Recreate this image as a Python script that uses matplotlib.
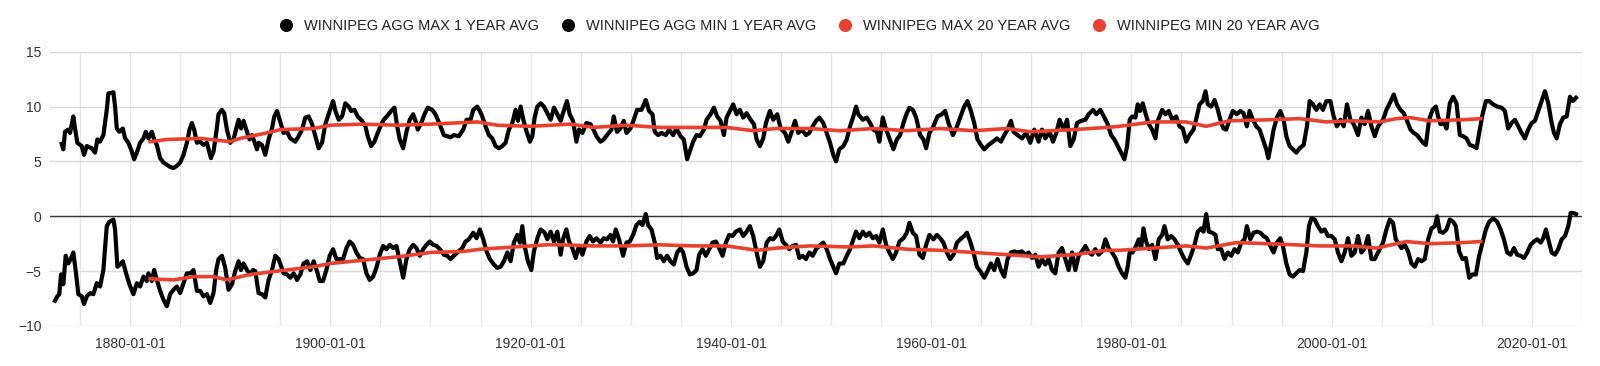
import matplotlib.pyplot as plt
from matplotlib.lines import Line2D
from matplotlib.ticker import MultipleLocator, FuncFormatter

plt.rcParams['font.family'] = ['Liberation Sans', 'DejaVu Sans']

# 1 year rolling average of daily max temperature (decimal year, deg C)
max_years = [
    1873.17, 1873.33, 1873.5, 1873.83, 1874.0, 1874.33, 1874.5, 1874.73, 1875.17, 1875.4,
    1875.67, 1876.17, 1876.5, 1876.73, 1877.0, 1877.33, 1877.67, 1877.83, 1878.33, 1878.5,
    1878.67, 1878.93, 1879.27, 1879.5, 1879.83, 1880.17, 1880.4, 1880.67, 1881.0, 1881.33,
    1881.57, 1881.83, 1882.17, 1882.4, 1882.67, 1883.0, 1883.33, 1883.67, 1884.0, 1884.33,
    1884.67, 1885.0, 1885.33, 1885.67, 1885.93, 1886.17, 1886.4, 1886.67, 1887.0, 1887.33,
    1887.67, 1888.07, 1888.33, 1888.6, 1888.83, 1889.17, 1889.4, 1889.67, 1890.0, 1890.33,
    1890.6, 1890.83, 1891.07, 1891.33, 1891.67, 1891.93, 1892.17, 1892.33, 1892.67, 1892.83,
    1893.17, 1893.5, 1893.83, 1894.17, 1894.4, 1894.67, 1894.93,
    1895.33, 1895.67, 1896.0, 1896.5, 1896.83, 1897.17, 1897.5, 1897.83, 1898.17, 1898.5,
    1898.83, 1899.17, 1899.5, 1899.93, 1900.27, 1900.5, 1900.83, 1901.17, 1901.5, 1901.83,
    1902.07, 1902.4, 1902.73, 1903.17, 1903.5, 1903.73, 1904.07, 1904.4, 1904.73, 1905.0,
    1905.33, 1905.73, 1906.07, 1906.4, 1906.67, 1906.93, 1907.27, 1907.6, 1907.93, 1908.27,
    1908.5, 1908.73, 1909.07, 1909.4, 1909.73, 1910.17, 1910.5, 1911.0, 1911.33, 1911.67,
    1912.0, 1912.33, 1912.83, 1913.27, 1913.6, 1914.0, 1914.27, 1914.67, 1914.93, 1915.17,
    1915.5, 1915.83, 1916.17, 1916.5, 1916.83, 1917.17, 1917.5, 1917.83, 1918.17, 1918.5,
    1918.73, 1919.0, 1919.27, 1919.6, 1919.93, 1920.17, 1920.4, 1920.67, 1921.0, 1921.33,
    1921.67, 1922.0, 1922.33, 1922.67, 1923.0,
    1923.23, 1923.63, 1923.9, 1924.23, 1924.57, 1924.83, 1925.17, 1925.57, 1925.97, 1926.23,
    1926.57, 1926.97, 1927.3, 1927.63, 1928.07, 1928.3, 1928.63, 1928.97, 1929.3, 1929.57,
    1929.97, 1930.3, 1930.63, 1931.07, 1931.5, 1931.83, 1932.17, 1932.4, 1932.73, 1933.07,
    1933.5, 1933.83, 1934.23, 1934.57, 1934.97, 1935.3, 1935.63, 1935.97, 1936.23, 1936.57,
    1936.9, 1937.3, 1937.57, 1937.97, 1938.3, 1938.63, 1938.97, 1939.3, 1939.57, 1939.9,
    1940.23, 1940.57, 1940.9, 1941.23, 1941.57, 1941.97, 1942.3, 1942.57, 1942.9, 1943.23,
    1943.5, 1943.9, 1944.23, 1944.63, 1944.97, 1945.4, 1945.73, 1946.07, 1946.4, 1946.73,
    1947.07, 1947.5, 1947.83, 1948.17, 1948.5, 1948.83, 1949.23, 1949.57, 1949.9, 1950.23,
    1950.5, 1950.83,
    1951.23, 1951.57, 1951.9, 1952.23, 1952.5, 1952.73, 1953.17, 1953.57, 1953.9, 1954.23,
    1954.57, 1954.83, 1955.17, 1955.5, 1955.83, 1956.23, 1956.57, 1956.9, 1957.23, 1957.57,
    1957.83, 1958.17, 1958.5, 1958.9, 1959.23, 1959.5, 1959.83, 1960.23, 1960.63, 1961.07,
    1961.4, 1961.73, 1962.17, 1962.5, 1962.9, 1963.3, 1963.63, 1963.97, 1964.3, 1964.63,
    1964.97, 1965.3, 1965.73, 1966.17, 1966.57, 1966.97, 1967.3, 1967.63, 1967.97, 1968.23,
    1968.63, 1969.07, 1969.5, 1969.9, 1970.3, 1970.73, 1971.07, 1971.4, 1971.83, 1972.17,
    1972.5, 1972.83, 1973.23, 1973.57, 1973.9, 1974.23, 1974.57, 1974.97, 1975.4, 1975.73,
    1976.17, 1976.5, 1976.9, 1977.3, 1977.63, 1977.97, 1978.3, 1978.63, 1978.97, 1979.3,
    1979.57, 1979.83,
    1980.07, 1980.4, 1980.63, 1980.87, 1981.13, 1981.4, 1981.73, 1982.07, 1982.4, 1982.63,
    1983.07, 1983.4, 1983.73, 1984.07, 1984.47, 1984.8, 1985.13, 1985.47, 1985.8, 1986.2,
    1986.53, 1986.8, 1987.13, 1987.4, 1987.63, 1987.97, 1988.3, 1988.63, 1988.97, 1989.2,
    1989.47, 1989.8, 1990.13, 1990.53, 1990.87, 1991.2, 1991.53, 1991.8, 1992.13, 1992.47,
    1992.8, 1993.13, 1993.47, 1993.67, 1993.97, 1994.2, 1994.53, 1994.87, 1995.2, 1995.47,
    1995.8, 1996.13, 1996.47, 1996.8, 1997.2, 1997.53, 1997.8, 1998.13, 1998.47, 1998.8,
    1999.13, 1999.47, 1999.87, 2000.2, 2000.53, 2000.87, 2001.2, 2001.53, 2001.87, 2002.2,
    2002.63, 2002.97, 2003.3, 2003.63, 2003.97, 2004.3, 2004.63,
    2005.13, 2005.47, 2005.8, 2006.2, 2006.53, 2006.87, 2007.2, 2007.53, 2007.87, 2008.2,
    2008.53, 2008.87, 2009.13, 2009.4, 2009.73, 2010.07, 2010.4, 2010.63, 2010.87, 2011.2,
    2011.47, 2011.8, 2012.13, 2012.47, 2012.8, 2013.13, 2013.47, 2013.8, 2014.13, 2014.47,
    2014.73, 2015.07, 2015.4, 2015.73, 2016.13, 2016.53, 2016.97, 2017.3, 2017.63, 2017.97,
    2018.3, 2018.63, 2018.97, 2019.3, 2019.63, 2019.97, 2020.3, 2020.63, 2020.97, 2021.3,
    2021.63, 2021.97, 2022.2, 2022.47, 2022.8, 2023.13, 2023.47, 2023.8, 2024.07, 2024.4,
]
max_values = [
    6.6, 6.1, 7.7, 7.9, 7.6, 9.1, 8.0, 6.7, 6.4, 5.6,
    6.4, 6.2, 5.8, 7.0, 6.8, 7.4, 9.7, 11.2, 11.3, 10.0,
    8.0, 7.7, 8.0, 7.1, 6.7, 5.9, 5.2, 5.8, 6.7, 7.1,
    7.7, 7.1, 7.7, 7.0, 6.5, 5.3, 4.9, 4.7, 4.5, 4.4,
    4.6, 4.9, 5.6, 6.7, 7.9, 8.5, 7.9, 6.7, 6.8, 6.5,
    6.7, 5.3, 5.9, 7.6, 9.3, 9.7, 9.4, 7.9, 6.7, 7.0,
    8.0, 8.8, 8.0, 8.7, 7.7, 7.0, 7.4, 7.0, 6.1, 6.7,
    6.5, 5.6, 7.0, 8.0, 9.1, 9.6, 8.8,
    7.6, 7.7, 7.1, 6.8, 7.3, 7.9, 9.0, 9.1, 8.4, 7.3,
    6.2, 6.7, 8.4, 9.6, 10.5, 9.6, 8.8, 9.1, 10.3, 10.0,
    9.6, 9.7, 9.1, 8.7, 8.2, 7.3, 6.4, 6.8, 7.6, 8.2,
    8.8, 9.2, 9.6, 9.9, 8.2, 7.0, 6.2, 7.7, 8.8, 9.3,
    8.7, 7.9, 8.5, 9.3, 9.9, 9.7, 9.3, 8.2, 7.4, 7.3,
    7.2, 7.4, 7.3, 7.9, 8.8, 8.8, 9.7, 10.0, 9.6, 9.1,
    8.2, 7.4, 7.1, 6.4, 6.2, 6.4, 6.7, 7.9, 8.5, 9.7,
    8.7, 10.0, 8.8, 7.7, 6.8, 7.3, 9.0, 10.0, 10.3, 10.0,
    9.4, 8.8, 9.9, 9.3, 8.7,
    9.4, 10.5, 9.3, 8.7, 6.8, 7.9, 7.6, 8.5, 8.4, 8.0,
    7.3, 6.8, 7.0, 7.4, 7.9, 9.1, 7.7, 8.0, 8.7, 7.6,
    8.0, 8.8, 9.7, 9.7, 10.6, 9.6, 9.3, 7.7, 7.4, 7.6,
    7.4, 7.9, 7.4, 8.0, 7.3, 7.0, 5.2, 6.1, 6.8, 7.4,
    7.3, 7.9, 8.8, 9.3, 9.9, 9.1, 8.7, 7.4, 9.0, 9.6,
    10.2, 9.3, 9.7, 9.0, 9.4, 8.8, 8.4, 7.0, 6.4, 7.1,
    8.5, 9.6, 8.8, 9.3, 8.0, 7.6, 6.8, 7.7, 8.7, 7.6,
    7.9, 7.4, 7.6, 8.2, 8.7, 9.0, 8.5, 7.6, 6.7, 5.6,
    5.0, 6.1,
    6.4, 7.0, 8.2, 9.1, 10.0, 9.3, 8.8, 9.0, 8.5, 7.9,
    7.7, 6.8, 9.0, 7.9, 7.1, 6.1, 7.0, 7.4, 8.5, 9.4,
    9.9, 9.7, 9.0, 7.4, 7.0, 6.2, 7.6, 8.2, 9.1, 9.3,
    9.6, 8.5, 7.4, 8.0, 9.0, 10.0, 10.5, 9.6, 8.5, 7.0,
    6.5, 6.1, 6.5, 6.8, 7.1, 6.8, 7.4, 7.9, 8.7, 7.7,
    7.4, 7.1, 7.6, 6.7, 7.9, 6.8, 7.9, 7.1, 7.7, 6.8,
    7.6, 8.8, 7.9, 8.8, 6.4, 7.0, 8.5, 8.7, 8.8, 9.3,
    9.7, 9.3, 9.7, 9.0, 8.4, 7.4, 7.0, 6.4, 5.8, 5.2,
    6.4, 8.8,
    9.1, 9.0, 10.2, 9.6, 10.3, 9.4, 8.4, 7.9, 7.1, 8.7,
    9.7, 9.3, 9.6, 8.8, 9.1, 8.2, 8.0, 6.8, 7.4, 7.9,
    9.1, 10.2, 10.5, 11.4, 10.2, 10.0, 10.6, 9.7, 8.5, 8.0,
    7.9, 8.8, 9.6, 9.3, 9.6, 9.4, 8.2, 9.6, 8.8, 8.2,
    7.9, 7.0, 6.1, 5.3, 6.7, 7.9, 9.0, 9.6, 8.8, 7.3,
    6.4, 6.1, 5.8, 6.2, 6.5, 8.2, 10.5, 10.2, 9.7, 10.2,
    9.7, 10.5, 10.5, 9.1, 8.2, 8.8, 8.2, 10.2, 8.8, 8.4,
    7.4, 9.0, 8.4, 9.6, 8.2, 7.3, 8.2,
    8.8, 9.7, 10.3, 11.1, 10.2, 9.7, 9.4, 8.7, 7.9, 7.6,
    7.4, 7.0, 6.7, 6.5, 8.8, 9.7, 10.0, 9.1, 8.4, 8.5,
    8.0, 10.3, 10.9, 10.3, 7.4, 7.3, 7.1, 6.5, 6.4, 6.2,
    7.6, 9.3, 10.5, 10.5, 10.2, 10.0, 9.9, 9.6, 8.0, 8.5,
    8.8, 8.2, 7.6, 7.1, 7.9, 8.5, 8.7, 9.6, 10.5, 11.4,
    10.3, 8.5, 7.6, 7.1, 8.4, 9.0, 9.1, 10.9, 10.5, 10.8,
]

# 1 year rolling average of daily min temperature
min_years = [
    1872.5, 1872.73, 1872.93, 1873.1, 1873.33, 1873.57, 1873.83, 1874.07, 1874.33, 1874.6,
    1874.83, 1875.17, 1875.4, 1875.67, 1876.0, 1876.33, 1876.67, 1877.0, 1877.33, 1877.67,
    1877.93, 1878.33, 1878.5, 1878.73, 1879.0, 1879.27, 1879.6, 1879.93, 1880.33, 1880.67,
    1881.0, 1881.33, 1881.67, 1881.83, 1882.17, 1882.4, 1882.67, 1883.0, 1883.33, 1883.67,
    1884.0, 1884.33, 1884.67, 1885.0, 1885.33, 1885.67, 1886.0, 1886.33, 1886.67, 1887.0,
    1887.33, 1887.67, 1888.0, 1888.33, 1888.6, 1888.83, 1889.17, 1889.5, 1889.83, 1890.17,
    1890.5, 1890.83, 1891.07, 1891.33, 1891.67, 1892.0, 1892.27, 1892.5, 1892.83, 1893.17,
    1893.5, 1893.83, 1894.17, 1894.5, 1894.83,
    1895.33, 1895.67, 1896.0, 1896.33, 1896.67, 1897.0, 1897.33, 1897.67, 1898.0, 1898.33,
    1898.67, 1898.93, 1899.27, 1899.6, 1899.93, 1900.27, 1900.6, 1900.93, 1901.27, 1901.6,
    1901.93, 1902.27, 1902.6, 1902.93, 1903.27, 1903.6, 1903.93, 1904.27, 1904.6, 1904.93,
    1905.27, 1905.6, 1905.93, 1906.27, 1906.6, 1906.93, 1907.27, 1907.6, 1907.93, 1908.27,
    1908.6, 1908.93, 1909.27, 1909.6, 1909.93, 1910.27, 1910.6, 1910.93, 1911.33, 1911.67,
    1912.0, 1912.33, 1912.67, 1913.17, 1913.5, 1913.83, 1914.27, 1914.6, 1914.93, 1915.27,
    1915.6, 1915.93, 1916.33, 1916.67, 1917.0, 1917.33, 1917.67, 1918.0, 1918.33, 1918.67,
    1918.93, 1919.17, 1919.4, 1919.73, 1920.07, 1920.33, 1920.67, 1921.0, 1921.4, 1921.67,
    1922.0, 1922.33, 1922.67, 1923.0,
    1923.23, 1923.57, 1923.83, 1924.17, 1924.5, 1924.83, 1925.17, 1925.57, 1925.9, 1926.23,
    1926.57, 1926.97, 1927.3, 1927.63, 1927.97, 1928.23, 1928.5, 1928.83, 1929.23, 1929.57,
    1929.9, 1930.23, 1930.57, 1930.9, 1931.17, 1931.5, 1931.73, 1932.07, 1932.4, 1932.63,
    1932.97, 1933.3, 1933.63, 1933.97, 1934.3, 1934.63, 1934.97, 1935.23, 1935.57, 1935.9,
    1936.23, 1936.57, 1936.83, 1937.17, 1937.5, 1937.83, 1938.17, 1938.5, 1938.83, 1939.17,
    1939.5, 1939.83, 1940.17, 1940.5, 1940.9, 1941.23, 1941.57, 1941.9, 1942.23, 1942.57,
    1942.9, 1943.23, 1943.57, 1943.9, 1944.23, 1944.57, 1944.83, 1945.17, 1945.5, 1945.83,
    1946.17, 1946.5, 1946.83, 1947.17, 1947.5, 1947.83, 1948.17, 1948.5, 1948.83, 1949.23,
    1949.57, 1949.9, 1950.23, 1950.5, 1950.83,
    1951.23, 1951.57, 1951.9, 1952.23, 1952.5, 1952.83, 1953.17, 1953.5, 1953.83, 1954.17,
    1954.5, 1954.83, 1955.17, 1955.5, 1955.83, 1956.17, 1956.5, 1956.83, 1957.23, 1957.57,
    1957.83, 1958.17, 1958.5, 1958.83, 1959.17, 1959.5, 1959.83, 1960.23, 1960.57, 1960.9,
    1961.23, 1961.57, 1961.9, 1962.23, 1962.57, 1962.9, 1963.3, 1963.57, 1963.9, 1964.23,
    1964.57, 1964.9, 1965.3, 1965.63, 1965.97, 1966.3, 1966.63, 1966.97, 1967.3, 1967.63,
    1967.97, 1968.3, 1968.63, 1969.07, 1969.4, 1969.73, 1970.07, 1970.4, 1970.73, 1971.07,
    1971.4, 1971.73, 1972.07, 1972.4, 1972.73, 1973.07, 1973.4, 1973.73, 1974.07, 1974.4,
    1974.73, 1975.07, 1975.4, 1975.73, 1976.07, 1976.4, 1976.73, 1977.07, 1977.4, 1977.73,
    1978.07, 1978.4, 1978.73, 1979.07, 1979.4, 1979.63, 1979.83,
    1980.13, 1980.47, 1980.73, 1980.97, 1981.2, 1981.47, 1981.73, 1982.07, 1982.4, 1982.73,
    1983.07, 1983.3, 1983.63, 1983.97, 1984.3, 1984.63, 1984.97, 1985.3, 1985.63, 1985.97,
    1986.3, 1986.63, 1986.97, 1987.2, 1987.47, 1987.73, 1988.07, 1988.4, 1988.63, 1988.97,
    1989.3, 1989.63, 1989.97, 1990.3, 1990.63, 1990.97, 1991.3, 1991.53, 1991.87, 1992.2,
    1992.53, 1992.87, 1993.2, 1993.53, 1993.87, 1994.2, 1994.53, 1994.87, 1995.13, 1995.47,
    1995.8, 1996.13, 1996.47, 1996.8, 1997.13, 1997.47, 1997.73, 1997.97, 1998.3, 1998.63,
    1998.97, 1999.3, 1999.63, 1999.97, 2000.3, 2000.63, 2000.97, 2001.3, 2001.63, 2001.97,
    2002.3, 2002.63, 2002.97, 2003.3, 2003.63, 2003.97, 2004.3, 2004.63,
    2005.13, 2005.47, 2005.8, 2006.13, 2006.4, 2006.63, 2006.97, 2007.3, 2007.63, 2007.97,
    2008.3, 2008.63, 2008.97, 2009.3, 2009.63, 2009.97, 2010.3, 2010.53, 2010.8, 2011.13,
    2011.47, 2011.8, 2012.13, 2012.4, 2012.73, 2013.07, 2013.4, 2013.73, 2014.07, 2014.4,
    2014.73, 2015.07, 2015.4, 2015.73, 2016.13, 2016.53, 2016.87, 2017.2, 2017.53, 2017.87,
    2018.2, 2018.53, 2018.87, 2019.2, 2019.53, 2019.87, 2020.2, 2020.53, 2020.87, 2021.13,
    2021.4, 2021.63, 2021.97, 2022.3, 2022.63, 2022.97, 2023.3, 2023.63, 2023.87, 2024.13,
    2024.4,
]
min_values = [
    -7.7, -7.3, -7.1, -5.3, -6.2, -3.6, -4.3, -3.9, -3.3, -5.2,
    -7.1, -7.3, -8.0, -7.3, -7.0, -7.1, -6.1, -6.4, -4.9, -0.9,
    -0.5, -0.3, -1.2, -4.6, -4.4, -4.1, -5.2, -6.2, -7.1, -6.1,
    -6.4, -5.5, -5.9, -5.2, -5.9, -4.9, -5.8, -6.8, -7.6, -8.2,
    -7.1, -6.7, -6.4, -7.0, -6.1, -5.2, -5.2, -4.9, -6.8, -6.8,
    -7.3, -7.1, -7.9, -7.0, -4.9, -3.9, -3.6, -4.7, -6.7, -6.2,
    -5.0, -4.1, -4.9, -4.3, -4.9, -5.3, -4.9, -5.0, -7.0, -7.1,
    -7.4, -5.8, -4.9, -3.6, -3.9,
    -5.2, -5.3, -5.6, -5.2, -5.8, -5.3, -4.3, -4.1, -4.9, -4.1,
    -5.0, -5.9, -5.9, -4.9, -3.6, -3.0, -3.9, -3.9, -3.9, -2.9,
    -2.3, -2.6, -3.3, -3.8, -3.9, -5.2, -5.8, -5.5, -4.7, -3.5,
    -2.7, -3.0, -2.6, -2.9, -2.7, -4.1, -5.6, -3.9, -3.0, -2.6,
    -2.9, -3.6, -3.0, -2.6, -2.3, -2.6, -2.7, -3.0, -3.5, -3.6,
    -3.9, -3.6, -3.3, -2.9, -2.3, -2.1, -1.5, -2.0, -1.2, -2.1,
    -3.2, -3.9, -4.4, -4.7, -4.6, -4.1, -3.3, -4.1, -2.4, -1.7,
    -2.4, -0.9, -2.7, -4.1, -4.9, -3.2, -2.0, -1.2, -1.5, -2.1,
    -1.4, -2.3, -1.4, -3.5,
    -2.1, -1.2, -2.3, -2.9, -3.8, -2.7, -3.5, -2.3, -1.8, -2.3,
    -2.0, -2.4, -2.0, -2.1, -1.7, -2.3, -1.2, -2.1, -3.6, -2.4,
    -2.3, -1.7, -0.8, -0.5, -0.8, 0.2, -0.8, -1.2, -2.4, -3.8,
    -3.6, -4.1, -3.6, -4.1, -4.4, -3.3, -2.9, -3.3, -4.6, -5.3,
    -5.2, -4.9, -3.5, -3.0, -3.6, -3.0, -2.4, -2.3, -2.9, -3.6,
    -2.4, -1.7, -1.8, -1.4, -1.2, -1.8, -1.4, -0.9, -1.8, -3.3,
    -4.6, -4.1, -2.4, -2.0, -2.1, -1.7, -1.2, -2.3, -2.6, -3.0,
    -2.7, -2.6, -3.8, -3.6, -3.9, -3.3, -3.6, -3.0, -2.7, -2.4,
    -3.0, -3.9, -4.6, -5.2, -4.3,
    -4.3, -3.6, -3.0, -2.1, -1.4, -2.0, -1.4, -1.8, -1.5, -2.0,
    -1.8, -2.4, -1.2, -2.6, -3.3, -3.9, -3.3, -2.3, -2.0, -1.5,
    -0.6, -1.5, -1.8, -3.5, -3.8, -2.6, -1.7, -2.1, -1.7, -2.0,
    -2.4, -3.3, -3.9, -3.5, -2.4, -2.1, -1.8, -1.5, -2.3, -3.3,
    -4.6, -5.0, -5.6, -5.0, -4.3, -4.9, -3.9, -4.9, -5.5, -3.9,
    -3.3, -3.2, -3.3, -3.2, -3.5, -3.3, -3.8, -3.5, -4.6, -3.9,
    -4.4, -3.9, -4.9, -5.2, -3.3, -2.9, -3.9, -4.9, -3.3, -4.9,
    -3.6, -3.2, -2.7, -3.3, -3.5, -3.0, -3.5, -3.2, -2.1, -2.9,
    -3.3, -3.8, -4.6, -5.2, -5.6, -4.6, -3.3,
    -3.3, -2.7, -2.1, -2.9, -1.1, -2.3, -3.0, -2.6, -3.9, -2.1,
    -1.7, -0.9, -2.1, -1.8, -2.1, -2.6, -3.3, -3.9, -4.3, -3.5,
    -2.6, -1.4, -1.1, -1.4, 0.2, -1.4, -1.5, -1.7, -3.0, -3.0,
    -3.9, -3.3, -3.6, -3.0, -3.3, -2.4, -2.1, -0.9, -2.1, -1.5,
    -1.4, -1.5, -1.8, -2.0, -2.7, -3.3, -2.4, -2.0, -2.7, -4.3,
    -5.3, -5.5, -5.2, -4.9, -5.0, -3.3, -0.9, -0.2, -0.3, -0.9,
    -1.4, -1.2, -1.8, -1.8, -2.1, -3.3, -4.1, -3.3, -2.0, -3.6,
    -3.3, -1.8, -3.3, -2.9, -1.8, -3.9, -3.9, -3.3,
    -2.4, -1.2, -0.3, -0.6, -2.1, -2.4, -2.9, -2.6, -3.2, -4.3,
    -4.6, -3.9, -4.1, -3.9, -2.1, -1.1, -0.9, 0.0, -1.4, -1.5,
    -1.2, -0.3, -0.5, -0.9, -3.2, -3.9, -3.8, -5.6, -5.3, -5.3,
    -3.6, -2.4, -1.2, -0.5, -0.2, -0.5, -1.2, -2.1, -3.3, -3.5,
    -2.9, -3.5, -3.6, -3.8, -3.3, -2.6, -2.3, -2.1, -2.4, -2.0,
    -1.2, -2.1, -3.3, -3.5, -3.0, -2.1, -1.8, -0.9, 0.3, 0.3,
    0.2,
]

# 20 year averages
max20_years = [1882.0, 1883.67, 1887.0, 1890.0, 1891.0, 1893.67, 1895.0, 1898.33, 1900.0, 1903.33,
               1906.67, 1910.0, 1914.67, 1916.67, 1920.0, 1924.0, 1926.23, 1929.57, 1932.9, 1936.23,
               1939.57, 1942.23, 1944.57, 1947.9, 1950.9, 1954.23, 1957.57, 1960.9, 1964.23, 1967.57,
               1969.9, 1974.23, 1977.57, 1978.8, 1982.13, 1985.47, 1987.47, 1989.8, 1993.8, 1996.8,
               1999.47, 2002.13, 2004.8, 2006.47, 2007.8, 2009.8, 2013.13, 2014.9]
max20_values = [6.8, 7.0, 7.1, 6.8, 7.1, 7.6, 7.9, 8.0, 8.3, 8.4,
                8.3, 8.4, 8.6, 8.3, 8.2, 8.4, 8.1, 8.3, 8.1, 8.1,
                8.1, 7.8, 8.0, 8.0, 7.8, 8.0, 7.8, 8.0, 7.8, 8.0,
                7.7, 7.9, 8.1, 8.2, 8.6, 8.6, 8.2, 8.7, 8.8, 8.9,
                8.6, 8.7, 8.6, 8.9, 9.0, 8.7, 8.8, 8.9]

min20_years = [1882.0, 1884.33, 1886.33, 1888.33, 1889.67, 1892.0, 1894.67, 1898.33, 1900.0, 1903.33,
               1906.67, 1910.0, 1913.33, 1915.0, 1918.33, 1921.67, 1922.9, 1926.23, 1929.57, 1932.9,
               1936.23, 1939.57, 1942.57, 1944.57, 1947.9, 1951.9, 1954.23, 1957.57, 1960.9, 1964.23,
               1967.57, 1970.9, 1974.23, 1977.57, 1978.8, 1982.13, 1985.47, 1987.47, 1990.47, 1993.8,
               1998.8, 2002.13, 2004.47, 2007.47, 2009.8, 2013.13, 2014.9]
min20_values = [-5.7, -5.8, -5.5, -5.5, -5.8, -5.3, -5.0, -4.6, -4.3, -4.0,
                -3.7, -3.3, -3.2, -3.0, -2.8, -2.6, -2.6, -2.7, -2.7, -2.6,
                -2.7, -2.7, -3.1, -2.9, -2.7, -2.8, -2.7, -3.0, -3.1, -3.3,
                -3.5, -3.7, -3.5, -3.1, -3.1, -2.9, -2.7, -2.9, -2.4, -2.5,
                -2.7, -2.7, -2.9, -2.3, -2.5, -2.4, -2.3]

labels = ['WINNIPEG AGG MAX 1 YEAR AVG', 'WINNIPEG AGG MIN 1 YEAR AVG',
          'WINNIPEG MAX 20 YEAR AVG', 'WINNIPEG MIN 20 YEAR AVG']
black = '#000000'
red = '#e8412f'

fig = plt.figure(figsize=(16, 3.66), dpi=100)
ax = fig.add_axes([0.03125, 0.1093, 0.95750, 0.7494])

# 1 year lines
ax.plot(max_years, max_values, color=black, linewidth=3.0, solid_joinstyle='round', zorder=3)
ax.plot(min_years, min_values, color=black, linewidth=3.0, solid_joinstyle='round', zorder=3)
# 20 year lines on top
ax.plot(max20_years, max20_values, color=red, linewidth=2.6, solid_joinstyle='round', zorder=4)
ax.plot(min20_years, min20_values, color=red, linewidth=2.6, solid_joinstyle='round', zorder=4)

ax.axhline(0, color='#333333', linewidth=1.0, zorder=2)

ax.set_xlim(1872.0, 2025.0)
ax.set_ylim(-10, 15)
ax.set_yticks([-10, -5, 0, 5, 10, 15])
ax.xaxis.set_major_locator(MultipleLocator(20))
ax.xaxis.set_minor_locator(MultipleLocator(5))
ax.xaxis.set_major_formatter(FuncFormatter(lambda v, p: f"{int(round(v))}-01-01"))

ax.grid(True, which='major', axis='y', color='#d9d9d9', linewidth=1.0, zorder=0)
ax.grid(True, which='both', axis='x', color='#e6e6e6', linewidth=1.0, zorder=0)

for s in ax.spines.values():
    s.set_visible(False)
ax.tick_params(axis='both', which='both', length=0, labelsize=10, colors='#333333')
ax.tick_params(axis='y', pad=6)
ax.tick_params(axis='x', pad=8)

handles = [
    Line2D([], [], marker='o', linestyle='None', color=black, markersize=8.4),
    Line2D([], [], marker='o', linestyle='None', color=black, markersize=8.4),
    Line2D([], [], marker='o', linestyle='None', color=red, markersize=8.4),
    Line2D([], [], marker='o', linestyle='None', color=red, markersize=8.4),
]
fig.legend(handles, labels, loc='center', bbox_to_anchor=(0.4995, 0.930), ncol=4,
           frameon=False, fontsize=10.5, handlelength=1.0, handletextpad=0.7,
           columnspacing=1.5, borderpad=0, labelcolor='#222222')

plt.savefig('out.png', dpi=100)
